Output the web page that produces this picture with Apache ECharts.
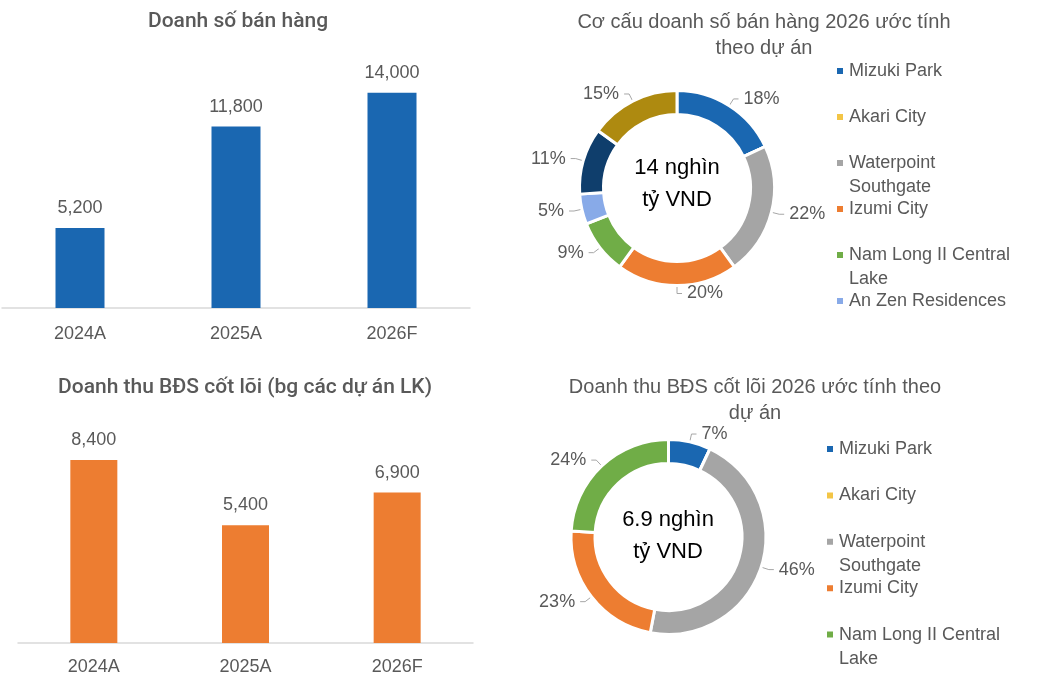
<!DOCTYPE html>
<html>
<head>
<meta charset="utf-8">
<script src="https://cdn.jsdelivr.net/npm/echarts@6/dist/echarts.min.js"></script>
<style>
html,body{margin:0;padding:0;background:#fff;}
#main{width:1057px;height:686px;}
</style>
</head>
<body>
<div id="main"></div>
<script>
var years=['2024A','2025A','2026F'];
var salesValues=[5200,11800,14000];                //Doanh số bán hàng
var coreValues=[8400,5400,6900];                   //Doanh thu BĐS cốt lõi
var pie1Names=['Mizuki Park','Akari City','Waterpoint Southgate','Izumi City','Nam Long II Central Lake','An Zen Residences','Dự án khác 1','Dự án khác 2'];
var pie1Values=[18,0,22,20,9,5,11,15];
var pie2Names=['Mizuki Park','Akari City','Waterpoint Southgate','Izumi City','Nam Long II Central Lake'];
var pie2Values=[7,0,46,23,24];
var legend1Names=pie1Names.slice(0,6);
var legend2Names=pie2Names.slice(0,5);

var colorMap={
    'Mizuki Park':'#1A67B1',
    'Akari City':'#F3C546',
    'Waterpoint Southgate':'#A5A5A5',
    'Izumi City':'#ED7D31',
    'Nam Long II Central Lake':'#70AD47',
    'An Zen Residences':'#88AAE8',
    'Dự án khác 1':'#0F3E6C',
    'Dự án khác 2':'#AE8A10'
};
var font='Liberation Sans';
var grey='#595959';

function pieData(names,values) {
    var list=[];
    for (var i=0;i<names.length;i++){
        var item={name:names[i],value:values[i],itemStyle:{color:colorMap[names[i]]}};
        if (values[i]==0){
            item.label={show:false};
            item.labelLine={show:false};
        }
        list.push(item);
    }
    return list;
}

//手动换行，每个图例都是两行，高度一致
var ctx=document.createElement('canvas').getContext('2d');
ctx.font='18px "'+font+'"';
function wrapName(name) {
    var words=name.split(' ');
    var line='';
    var lines=[];
    for (var i=0;i<words.length;i++){
        var test=line?line+' '+words[i]:words[i];
        if (ctx.measureText(test).width>172 && line){
            lines.push(line);
            line=words[i];
        } else {
            line=test;
        }
    }
    lines.push(line);
    return '{a|'+lines[0]+'}\n{b|'+(lines[1]||' ')+'}';
}

function titleItem(text,left,top,size,weight,color,lh,family) {
    return {
        text:text,left:left,top:top,padding:0,textAlign:'center',
        textStyle:{fontFamily:family||font,fontSize:size,fontWeight:weight,color:color,lineHeight:lh}
    };
}

function legendItem(names,left,top,gap) {
    return {
        data:names,orient:'vertical',left:left,top:top,padding:0,
        itemWidth:8,itemHeight:8,itemGap:gap,icon:'rect',
        formatter:wrapName,
        textStyle:{
            fontFamily:font,fontSize:18,color:grey,
            rich:{
                a:{fontFamily:font,fontSize:18,color:grey,lineHeight:24},
                b:{fontFamily:font,fontSize:18,color:grey,lineHeight:0,height:24,verticalAlign:'top'}
            }
        }
    };
}

function barSeries(values,color,width,xi) {
    return {
        type:'bar',data:values,barWidth:width,xAxisIndex:xi,yAxisIndex:xi,
        itemStyle:{color:color},
        label:{
            show:true,position:'top',distance:11,
            fontFamily:font,fontSize:18,color:grey,
            formatter:function (p) {
                return p.value.toLocaleString('en-US');
            }
        }
    };
}

function pieSeries(names,values,center) {
    return {
        type:'pie',center:center,radius:[73.5,97.5],startAngle:90,
        data:pieData(names,values),
        itemStyle:{borderColor:'#fff',borderWidth:3},
        label:{
            show:true,position:'outside',fontFamily:font,fontSize:18,color:grey,
            formatter:function (p) {
                return p.value>0?p.value+'%':'';
            }
        },
        labelLine:{show:true,length:8,length2:5,lineStyle:{color:'#A6A6A6',width:1}},
        emphasis:{disabled:true}
    };
}

var option={
    animation:false,
    title:[
        titleItem('Doanh số bán hàng',238,9,21,500,grey,26,'Roboto'),
        titleItem('Doanh thu BĐS cốt lõi (bg các dự án LK)',245,375,21,500,grey,26,'Roboto'),
        titleItem('Cơ cấu doanh số bán hàng 2026 ước tính\ntheo dự án',764,9,20,'normal',grey,26),
        titleItem('Doanh thu BĐS cốt lõi 2026 ước tính theo\ndự án',755,374,20,'normal',grey,26),
        titleItem('14 nghìn\ntỷ VND',677,152,22,'normal','#000',32),
        titleItem('6.9 nghìn\ntỷ VND',668,504,22,'normal','#000',32)
    ],
    legend:[
        legendItem(legend1Names,835,62,4),
        legendItem(legend2Names,825,440,4.4)
    ],
    grid:[
        {left:2,width:468,top:62,height:246},
        {left:18,width:455,top:425,height:218}
    ],
    xAxis:[0,1].map(function (i) {
        return {
            type:'category',data:years,gridIndex:i,
            axisLine:{lineStyle:{color:'#D9D9D9',width:1.5}},
            axisTick:{show:false},
            axisLabel:{fontFamily:font,fontSize:18,color:grey,margin:i==0?17:15}
        };
    }),
    yAxis:[
        {type:'value',gridIndex:0,min:0,max:16000,show:false,splitLine:{show:false}},
        {type:'value',gridIndex:1,min:0,max:10000,show:false,splitLine:{show:false}}
    ],
    series:[
        barSeries(salesValues,'#1A67B1',49,0),
        barSeries(coreValues,'#ED7D31',47,1),
        pieSeries(pie1Names,pie1Values,[677,188]),
        pieSeries(pie2Names,pie2Values,[668.5,537])
    ]
};
var myChart=echarts.init(document.getElementById('main'));
myChart.setOption(option);
</script>
</body>
</html>
